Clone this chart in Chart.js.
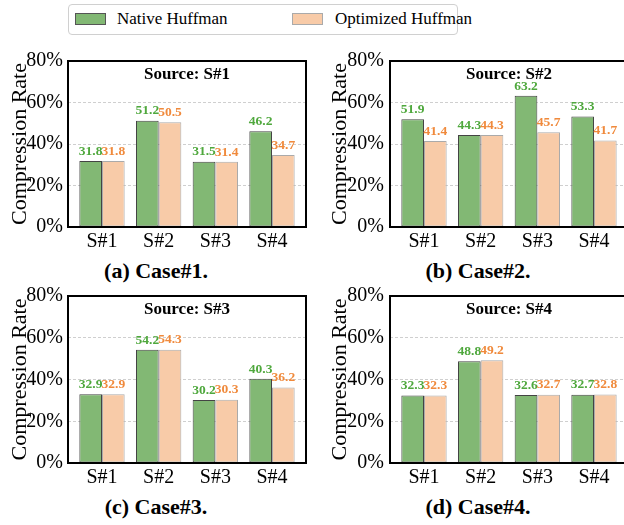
<!DOCTYPE html>
<html>
<head>
<meta charset="utf-8">
<script src="https://cdn.jsdelivr.net/npm/chart.js@4"></script>
<style>
  html, body { margin: 0; padding: 0; background: #fff; overflow: hidden; }
  body { width: 624px; height: 525px; position: relative; font-family: "Liberation Serif", "Times New Roman", "DejaVu Serif", serif; }
  canvas { position: absolute; }
  .legend { position: absolute; left: 68px; top: 4px; width: 390px; height: 31px; border: 1px solid #d0d0d0; border-radius: 4px; box-sizing: border-box; }
  .legend .sw { position: absolute; top: 8px; width: 31px; height: 12px; box-sizing: border-box; }
  .legend .tx { position: absolute; top: 4px; font-size: 17px; line-height: 20px; white-space: nowrap; }
  .caption { position: absolute; width: 200px; text-align: center; font-weight: bold; font-size: 22px; line-height: 24px; white-space: nowrap; }
</style>
</head>
<body>
<div class="legend">
  <div class="sw" style="left:6px;background:#82b874;border:1px solid #555;"></div>
  <div class="tx" style="left:48px;">Native Huffman</div>
  <div class="sw" style="left:223px;background:#f8cba8;border:1px solid #aaa;"></div>
  <div class="tx" style="left:266px;">Optimized Huffman</div>
</div>
<canvas id="c0" width="312" height="205" style="left:0px;top:50px"></canvas>
<canvas id="c1" width="320" height="205" style="left:312px;top:50px"></canvas>
<canvas id="c2" width="312" height="205" style="left:0px;top:286px"></canvas>
<canvas id="c3" width="320" height="205" style="left:312px;top:286px"></canvas>
<div class="caption" style="left:56px;top:259px">(a) Case#1.</div>
<div class="caption" style="left:378px;top:259px">(b) Case#2.</div>
<div class="caption" style="left:56px;top:495px">(c) Case#3.</div>
<div class="caption" style="left:378px;top:495px">(d) Case#4.</div>
<script>
const cats = ['S#1', 'S#2', 'S#3', 'S#4'];
const sources = ['S#1', 'S#2', 'S#3', 'S#4'];
const yTicks = [0, 20, 40, 60, 80];

const nativeS1 = [31.8, 51.2, 31.5, 46.2];
const optS1    = [31.8, 50.5, 31.4, 34.7];
const nativeS2 = [51.9, 44.3, 63.2, 53.3];
const optS2    = [41.4, 44.3, 45.7, 41.7];
const nativeS3 = [32.9, 54.2, 30.2, 40.3];
const optS3    = [32.9, 54.3, 30.3, 36.2];
const nativeS4 = [32.3, 48.8, 32.6, 32.7];
const optS4    = [32.3, 49.2, 32.7, 32.8];

const nativeAll = [nativeS1, nativeS2, nativeS3, nativeS4];
const optAll = [optS1, optS2, optS3, optS4];

const FONT = '"Liberation Serif", "Times New Roman", "DejaVu Serif", serif';
Chart.defaults.font.family = FONT;
Chart.defaults.color = '#000';

const GREEN = '#82b874', ORANGE = '#f8cba8';
const GREEN_TXT = '#4fa83d', ORANGE_TXT = '#f08a3c';

// frame + in-plot title + values on bars
const framePlugin = {
    id: 'frameAndLabels',
    afterDatasetsDraw: function(chart) {
        const ctx = chart.ctx;
        const a = chart.chartArea;
        ctx.save();
        ctx.strokeStyle = '#000';
        ctx.lineWidth = 2;
        ctx.strokeRect(a.left, a.top, a.right - a.left, a.bottom - a.top);

        ctx.fillStyle = '#000';
        ctx.font = 'bold 17px ' + FONT;
        ctx.textAlign = 'center';
        ctx.textBaseline = 'middle';
        ctx.fillText('Source: ' + chart.options.plugins.frameAndLabels.source, (a.left + a.right) / 2, a.top + 14);

        ctx.font = 'bold 13.5px ' + FONT;
        ctx.textBaseline = 'bottom';
        chart.data.datasets.forEach((ds, i) => {
            const meta = chart.getDatasetMeta(i);
            ctx.fillStyle = i === 0 ? GREEN_TXT : ORANGE_TXT;
            meta.data.forEach((el, j) => {
                ctx.fillText(ds.data[j].y.toFixed(1), el.x, el.y - 3);
            });
        });
        ctx.restore();
    }
};

function makeChart(id, k, leftW, rightPad, topPad, titlePad, tickPad) {
    new Chart(document.getElementById(id), {
        type: 'bar',
        data: {
            datasets: [{
                label: 'Native Huffman',
                data: cats.map((c, i) => ({ x: i, y: nativeAll[k][i] })),
                backgroundColor: GREEN,
                borderColor: '#444',
                borderWidth: 1,
                borderSkipped: false
            }, {
                label: 'Optimized Huffman',
                data: cats.map((c, i) => ({ x: i, y: optAll[k][i] })),
                backgroundColor: ORANGE,
                borderColor: '#aaa',
                borderWidth: 1,
                borderSkipped: false
            }]
        },
        options: {
            responsive: false,
            animation: false,
            devicePixelRatio: 1,
            categoryPercentage: 0.8,
            barPercentage: 1.0,
            layout: { padding: { left: 0, right: rightPad, top: topPad, bottom: 0 } },
            scales: {
                x: {
                    type: 'linear',
                    min: -0.6,
                    max: 3.6,
                    offset: false,
                    grid: { display: false, drawTicks: false },
                    border: { display: false },
                    afterBuildTicks: s => { s.ticks = cats.map((c, i) => ({ value: i })); },
                    afterFit: s => { s.height = 28; s.paddingLeft = 0; s.paddingRight = 0; },
                    ticks: {
                        autoSkip: false,
                        maxRotation: 0,
                        padding: 3,
                        font: { size: 20 },
                        callback: v => cats[v]
                    }
                },
                y: {
                    min: 0,
                    max: 80,
                    afterBuildTicks: s => { s.ticks = yTicks.map(v => ({ value: v })); },
                    afterFit: s => { s.width = leftW; s.paddingTop = 0; s.paddingBottom = 0; },
                    grid: { color: '#cfcfcf', lineWidth: 1, drawTicks: false },
                    border: { display: false, dash: [3, 2] },
                    ticks: {
                        padding: tickPad,
                        font: { size: 20 },
                        callback: v => v + '%'
                    },
                    title: {
                        display: true,
                        text: 'Compression Rate',
                        font: { size: 22 },
                        padding: { top: titlePad, bottom: 0 }
                    }
                }
            },
            plugins: {
                legend: { display: false },
                tooltip: { enabled: false },
                frameAndLabels: { source: sources[k] }
            }
        },
        plugins: [framePlugin]
    });
}

makeChart('c0', 0, 68, 6, 11, 7, 5);
makeChart('c1', 1, 78, 4, 11, 15, 6);
makeChart('c2', 2, 68, 6, 10, 7, 5);
makeChart('c3', 3, 78, 4, 10, 15, 6);
</script>
</body>
</html>
